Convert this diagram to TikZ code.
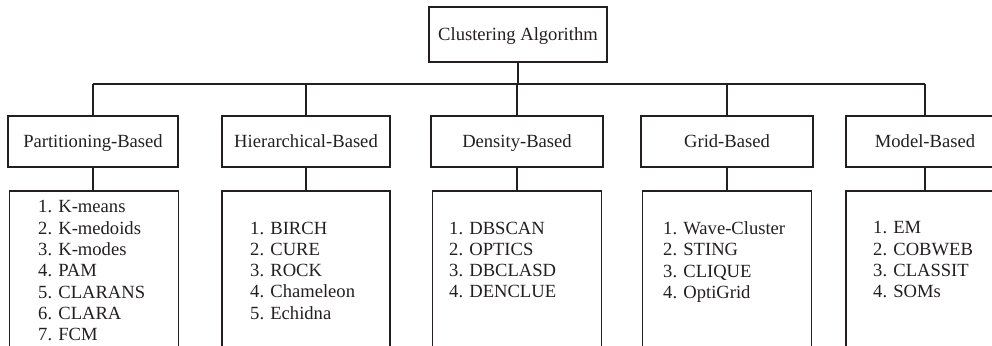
\documentclass[tikz,border=0pt]{standalone}
\usepackage{fontspec}
\setmainfont{Liberation Serif}
\definecolor{ink}{HTML}{231F20}
\begin{document}
\begin{tikzpicture}[x=1pt,y=-1pt,
  link/.style={draw=ink, line width=1.6pt},
  box/.style={draw=ink, line width=1.6pt, rectangle, inner sep=0pt, text=ink,
    font=\fontsize{18.6}{21.3}\selectfont},
  label/.style={text height=12.7pt, text depth=0pt},
  catbox/.style={box, label, minimum height=51pt},
  listbox/.style={box, minimum height=170pt, anchor=north},
  items/.style={inner sep=0pt, anchor=north west, align=left, text=ink,
    font=\fontsize{18.6}{21.3}\selectfont}]
\useasboundingbox (0,0) rectangle (992,345);
\clip (0,0) rectangle (992,345);

% root
\node[box, label, minimum width=178pt, minimum height=55pt] (root) at (518,34.5) {Clustering Algorithm};

% categories
\node[catbox, minimum width=170pt] (part) at (93,141.5) {Partitioning-Based};
\node[catbox, minimum width=168pt] (hier) at (306,141.5) {Hierarchical-Based};
\node[catbox, minimum width=172pt] (dens) at (517,141.5) {Density-Based};
\node[catbox, minimum width=172pt] (grid) at (727,141.5) {Grid-Based};
\node[catbox, minimum width=158pt] (model) at (925,141.5) {Model-Based};

% algorithm lists
\node[listbox, minimum width=169pt] (partL) at (94,190) {};
\node[listbox, minimum width=168pt] (hierL) at (306,190) {};
\node[listbox, minimum width=169pt] (densL) at (517,190) {};
\node[listbox, minimum width=169pt] (gridL) at (727,190) {};
\node[listbox, minimum width=158pt] (modelL) at (925,190) {};

\node[items] (partT) at (38,200.5) {1. K-means\\2. K-medoids\\3. K-modes\\4. PAM\\5. CLARANS\\6. CLARA\\7. FCM};
\node[items] (hierT) at (250,221.5) {1. BIRCH\\2. CURE\\3. ROCK\\4. Chameleon\\5. Echidna};
\node[items] (densT) at (449,221.5) {1. DBSCAN\\2. OPTICS\\3. DBCLASD\\4. DENCLUE};
\node[items] (gridT) at (663,221.5) {1. Wave-Cluster\\2. STING\\3. CLIQUE\\4. OptiGrid};
\node[items] (modelT) at (873,221.5) {1. EM\\2. COBWEB\\3. CLASSIT\\4. SOMs};

% tree connectors
\coordinate (busL) at (part.north |- 0,84);
\coordinate (busR) at (model.north |- 0,84);
\draw[link] (busL) -- (busR);
\draw[link] (root.south) -- (root.south |- busL);
\foreach \n in {part,hier,dens,grid,model} {
  \draw[link] (\n.north |- busL) -- (\n.north);
  \draw[link] (\n.south) -- (\n.south |- \n L.north);
}
\end{tikzpicture}
\end{document}
